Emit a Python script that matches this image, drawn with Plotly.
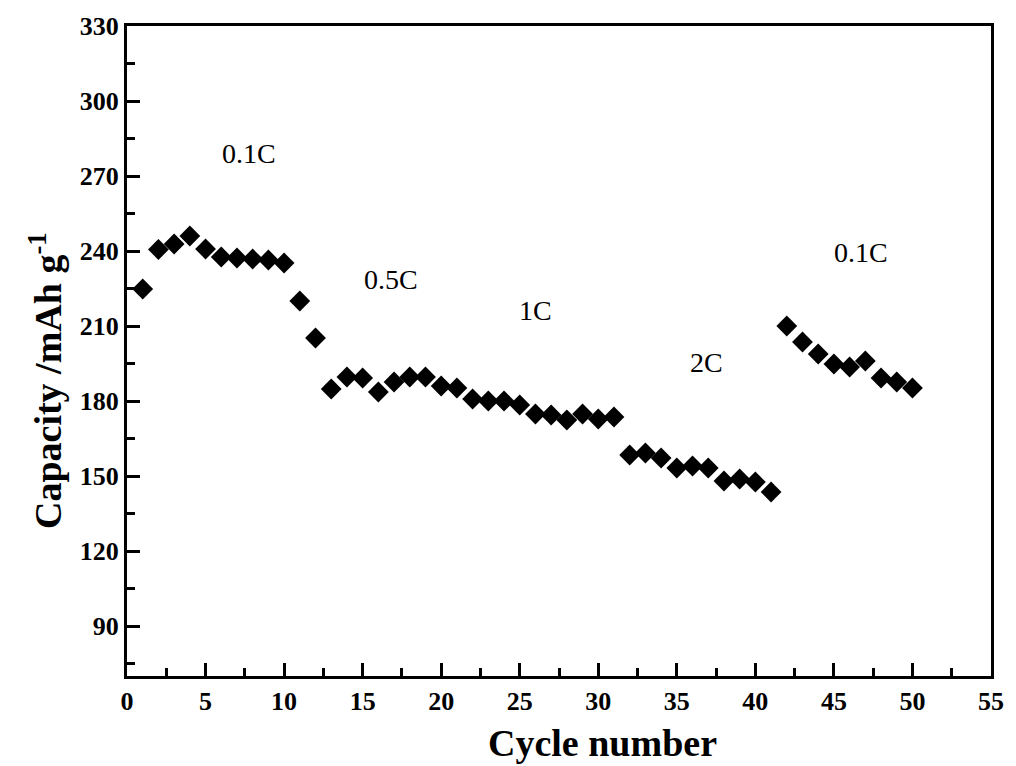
import plotly.graph_objects as go

# Rate-capability data: discharge capacity per cycle
cycles = list(range(1, 51))
capacity = [
    224.8, 240.6, 242.8, 246.0, 240.8, 237.6, 237.2, 236.8, 236.4, 235.2,
    220.0, 205.2, 184.8, 189.6, 189.2, 183.6, 187.6, 189.6, 189.6, 186.0,
    185.2, 180.8, 180.0, 180.0, 178.4, 174.8, 174.4, 172.4, 174.8, 172.8,
    173.6, 158.4, 159.2, 157.2, 153.2, 154.0, 153.2, 148.0, 148.8, 147.6,
    143.6, 210.0, 203.6, 198.8, 194.8, 193.6, 196.0, 189.2, 187.6, 185.2,
]

# Current-rate labels and where they sit
rate_labels = ["0.1C", "0.5C", "1C", "2C", "0.1C"]
rate_x = [7.75, 16.8, 26.0, 36.9, 46.7]
rate_y = [279.2, 228.8, 216.4, 195.6, 239.6]

x_ticks = list(range(0, 56, 5))
y_ticks = list(range(90, 331, 30))

serif = "Liberation Serif, Times New Roman, serif"

fig = go.Figure()
fig.add_trace(go.Scatter(
    x=cycles, y=capacity, mode="markers",
    marker=dict(symbol="diamond", size=16, color="black", line=dict(width=0)),
    showlegend=False,
))

for t, xv, yv in zip(rate_labels, rate_x, rate_y):
    fig.add_annotation(x=xv, y=yv, text=t, showarrow=False,
                       font=dict(family=serif, size=28, color="black"))

# Axis titles as paper-anchored text
fig.add_annotation(text="Cycle number", xref="paper", yref="paper",
                   x=0.55, y=-0.103, xanchor="center", yanchor="middle",
                   showarrow=False,
                   font=dict(family=serif, size=38, color="black", weight="bold"))
fig.add_annotation(text="Capacity /mAh g<sup>-1</sup>", xref="paper", yref="paper",
                   x=-0.094, y=0.455, xanchor="center", yanchor="middle",
                   textangle=-90, showarrow=False,
                   font=dict(family=serif, size=38, color="black", weight="bold"))

axis_common = dict(
    showline=True, linecolor="black", linewidth=3, mirror=True,
    ticks="inside", ticklen=13, tickwidth=3, tickcolor="black",
    showgrid=False, zeroline=False,
    tickfont=dict(family=serif, size=26, color="black", weight="bold"),
)

fig.update_xaxes(
    range=[0, 55], tickvals=x_ticks, **axis_common,
    minor=dict(ticks="inside", ticklen=8, tickwidth=3, tickcolor="black", dtick=2.5, showgrid=False),
)
fig.update_yaxes(
    range=[70, 330], tickvals=y_ticks, **axis_common,
    minor=dict(ticks="inside", ticklen=8, tickwidth=3, tickcolor="black", dtick=15, showgrid=False),
)

fig.update_layout(
    width=1016, height=766,
    margin=dict(l=127, r=16, t=25, b=90),
    plot_bgcolor="white", paper_bgcolor="white",
)

fig.write_html("out.html")
